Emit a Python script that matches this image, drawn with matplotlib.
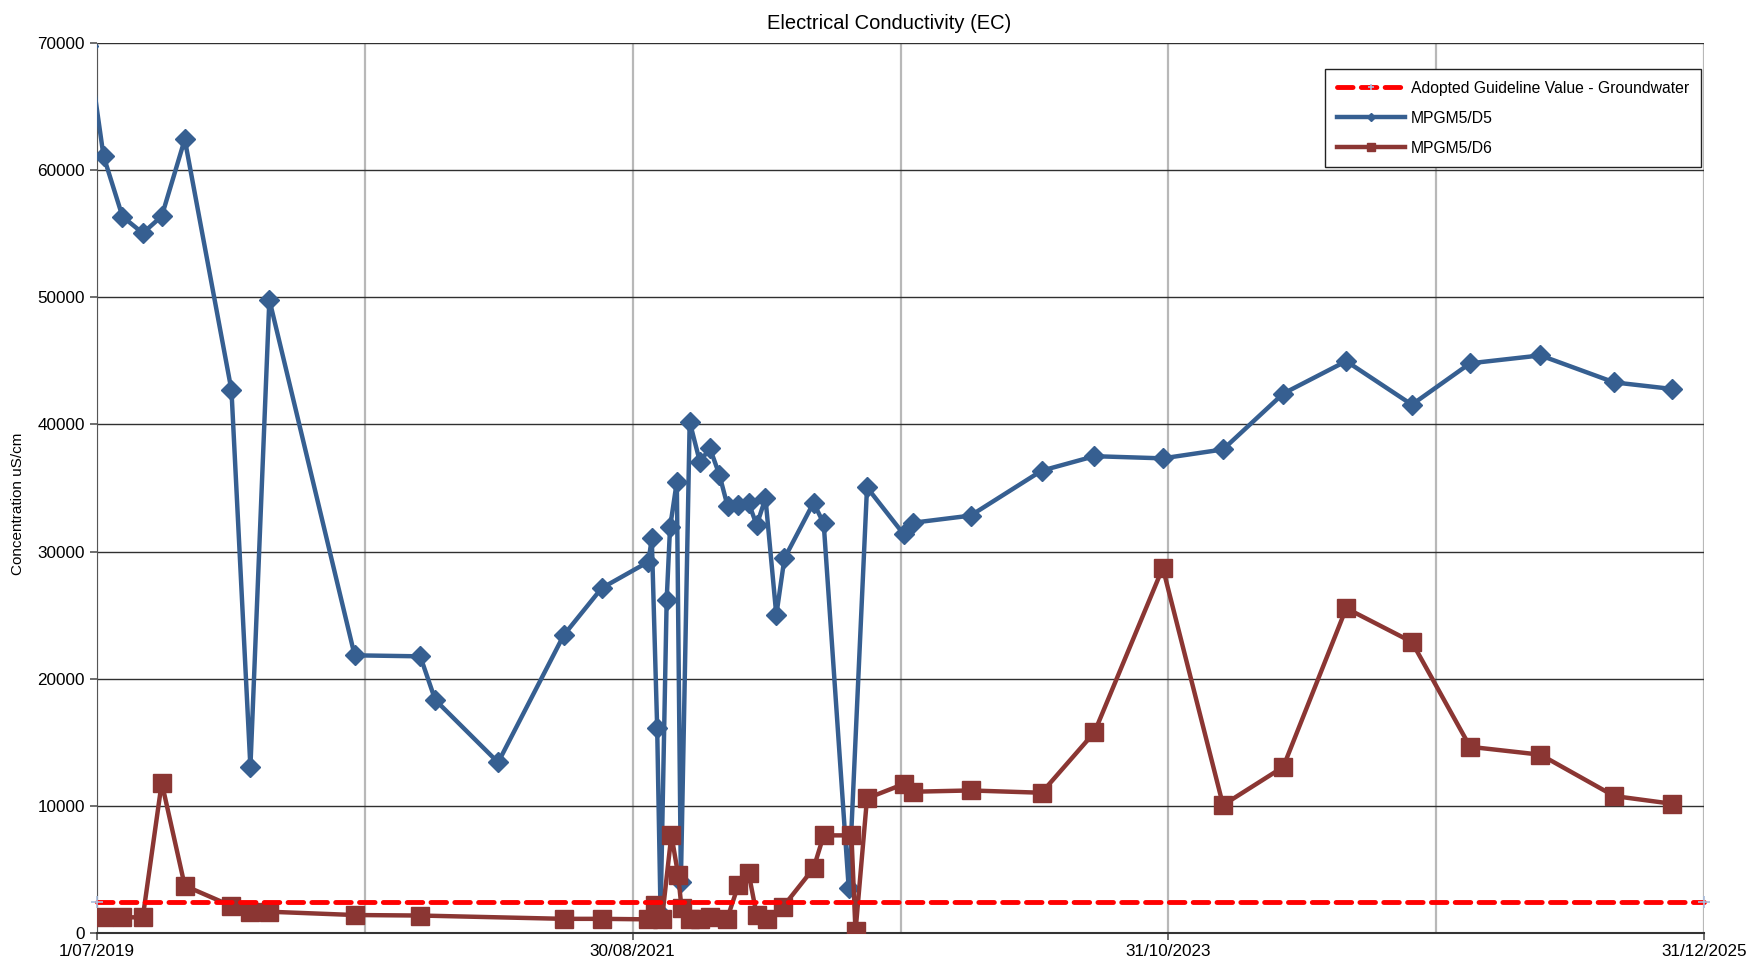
import matplotlib
matplotlib.use("Agg")
import matplotlib.pyplot as plt
import matplotlib.dates as mdates
import numpy as np
import pandas as pd

plt.rcParams['font.family'] = ['Liberation Sans', 'DejaVu Sans']

## données
d5_dates = ['2019-06-18', '2019-07-11', '2019-08-08', '2019-09-07', '2019-10-05', '2019-11-08',
            '2020-01-16', '2020-02-13', '2020-03-12', '2020-07-16', '2020-10-21', '2020-11-12',
            '2021-02-13', '2021-05-21', '2021-07-16', '2021-09-23', '2021-09-28', '2021-10-06',
            '2021-10-11', '2021-10-20', '2021-10-25', '2021-11-04', '2021-11-10', '2021-11-23',
            '2021-12-08', '2021-12-23', '2022-01-06', '2022-01-18', '2022-02-03', '2022-02-18',
            '2022-03-02', '2022-03-15', '2022-03-31', '2022-04-12', '2022-05-25', '2022-06-09',
            '2022-07-16', '2022-08-12', '2022-10-05', '2022-10-19', '2023-01-12', '2023-04-27',
            '2023-07-14', '2023-10-23', '2024-01-20', '2024-04-18', '2024-07-20', '2024-10-25',
            '2025-01-19', '2025-05-03', '2025-08-20', '2025-11-14']
d5_values = [69700, 61090, 56330, 55030, 56360, 62400,
             42690, 13070, 49800, 21850, 21770, 18350,
             13430, 23440, 27130, 29200, 31050, 16100,
             1500, 26200, 31900, 35500, 4060, 40210,
             37070, 38120, 36020, 33580, 33660, 33840,
             32090, 34190, 25020, 29470, 33840, 32220,
             3540, 35050, 31380, 32270, 32830, 36360,
             37500, 37330, 38030, 42420, 44970, 41550,
             44800, 45420, 43300, 42780]

d6_dates = ['2019-07-11', '2019-08-08', '2019-09-07', '2019-10-05', '2019-11-08', '2020-01-16',
            '2020-02-13', '2020-03-12', '2020-07-16', '2020-10-21', '2021-05-21', '2021-07-16',
            '2021-09-23', '2021-10-03', '2021-10-13', '2021-10-27', '2021-11-06', '2021-11-11',
            '2021-11-23', '2021-12-08', '2021-12-23', '2022-01-17', '2022-02-03', '2022-02-18',
            '2022-03-02', '2022-03-17', '2022-04-10', '2022-05-25', '2022-06-09', '2022-07-20',
            '2022-07-26', '2022-08-12', '2022-10-05', '2022-10-19', '2023-01-12', '2023-04-27',
            '2023-07-14', '2023-10-23', '2024-01-20', '2024-04-18', '2024-07-20', '2024-10-25',
            '2025-01-19', '2025-05-03', '2025-08-20', '2025-11-14']
d6_values = [1260, 1260, 1260, 11840, 3740, 2150,
             1700, 1700, 1440, 1400, 1140, 1140,
             1100, 2220, 1100, 7730, 4580, 1960,
             1100, 1100, 1260, 1100, 3800, 4760,
             1440, 1100, 2090, 5110, 7700, 7700,
             150, 10610, 11730, 11130, 11230, 11050,
             15800, 28730, 10080, 13080, 25550, 22900,
             14660, 14040, 10790, 10180]

guideline_value = 2500
axis_start = '2019-07-01'
axis_end = '2025-12-31'
tick_labels = ['1/07/2019', '30/08/2021', '31/10/2023', '31/12/2025']

x_start = mdates.date2num(pd.Timestamp(axis_start))
x_end = mdates.date2num(pd.Timestamp(axis_end))

fig = plt.figure(figsize=(17.53, 9.65), dpi=100)
ax = fig.add_axes([0.0552, 0.0328, 0.917, 0.9230])

ax.plot([x_start, x_end], [guideline_value, guideline_value], color='#ff0000', lw=3.5,
        linestyle=(0, (3.2, 1.7)), dash_capstyle='round', marker='+', ms=9,
        markeredgecolor='#a9bcdb', mew=1.2, clip_on=False, zorder=4,
        label='Adopted Guideline Value - Groundwater')
ax.plot(mdates.date2num(pd.to_datetime(d5_dates)), d5_values, color='#365f91', lw=3.2,
        marker='D', ms=10, zorder=3, label='MPGM5/D5')
ax.plot(mdates.date2num(pd.to_datetime(d6_dates)), d6_values, color='#8b3633', lw=3.2,
        marker='s', ms=13, zorder=3, label='MPGM5/D6')

ax.set_xlim(x_start, x_end)
ax.set_ylim(0, 70000)

grid_pos = np.linspace(x_start, x_end, 7)
ax.set_xticks(grid_pos[::2])
ax.set_xticklabels(tick_labels)
ax.set_xticks(grid_pos[1::2], minor=True)
ax.tick_params(axis='x', which='minor', length=0)
ax.set_yticks(np.arange(0, 70001, 10000))
ax.tick_params(axis='both', labelsize=12.3, length=5, color='#555555', width=1.2)
ax.tick_params(axis='x', pad=3)

ax.grid(axis='x', which='both', color='#b8b8b8', lw=1.6)
ax.grid(axis='y', color='#303030', lw=1.0)
ax.set_axisbelow(True)
for s in ['top', 'right']:
    ax.spines[s].set_visible(False)
ax.spines['left'].set_color('#555555')
ax.spines['bottom'].set_color('#333333')
ax.spines['bottom'].set_linewidth(1.5)

fig.text(0.507, 0.9755, 'Electrical Conductivity (EC)', fontsize=14.5, ha='center', va='center')
ax.set_ylabel('Concentration uS/cm', fontsize=11)
ax.yaxis.set_label_coords(-0.0446, 0.482)

leg = ax.legend(loc='upper right', bbox_to_anchor=(0.998, 0.9705), borderaxespad=0,
                fontsize=11.3, markerscale=0.45, numpoints=1, handlelength=4.3,
                handletextpad=0.4, labelspacing=0.95, borderpad=0.75, fancybox=False,
                framealpha=1, edgecolor='#222222')
leg.get_frame().set_linewidth(1.0)

plt.savefig('out.png', dpi=100)
